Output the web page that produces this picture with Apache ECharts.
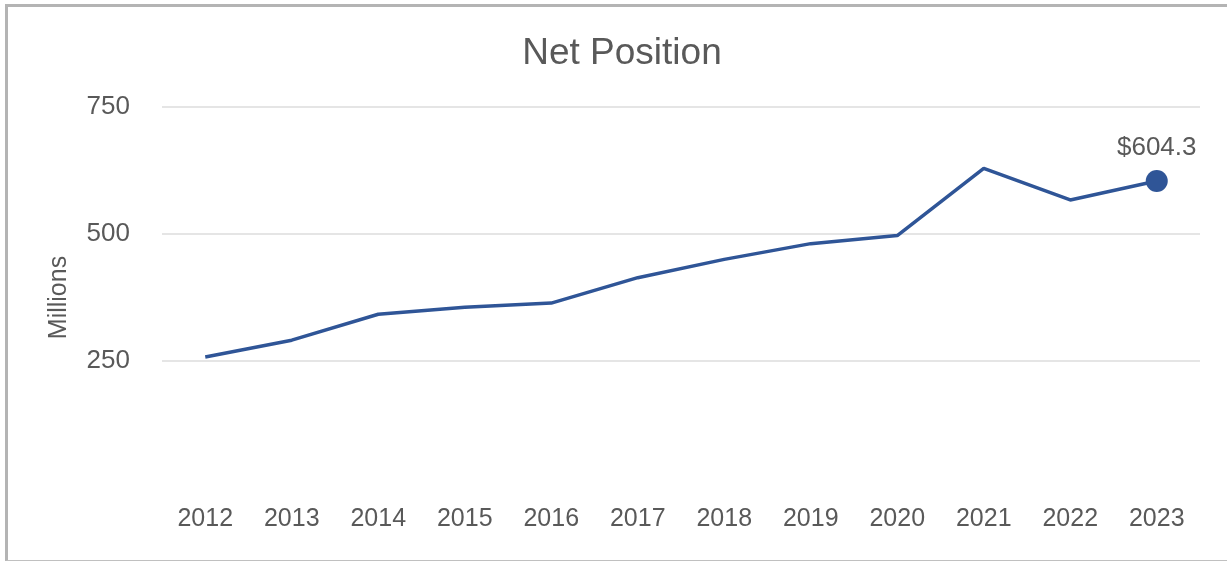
<!DOCTYPE html>
<html>
<head>
<meta charset="utf-8">
<script src="https://cdn.jsdelivr.net/npm/echarts@6/dist/echarts.min.js"></script>
<style>
html,body{margin:0;padding:0;background:#fff;}
#chart{position:absolute;left:0;top:0;width:1227px;height:561px;}
#frame{position:absolute;left:5px;top:4px;width:1240px;height:553px;border-left:3px solid #b4b4b4;border-top:3px solid #b4b4b4;border-bottom:1px solid #c0c0c0;pointer-events:none;}
</style>
</head>
<body>
<div id="chart"></div>
<div id="frame"></div>
<script>
var years = ['2012','2013','2014','2015','2016','2017','2018','2019','2020','2021','2022','2023'];
var netPosition = [258, 291, 342, 356, 364, 414, 450, 481, 497, 629, 567, 604.3];
var yTicks = [0, 250, 500, 750];

var lastIdx = netPosition.length - 1;
var seriesData = netPosition.map(function (v, i) {
  if (i === lastIdx) {
    return {
      value: v,
      symbol: 'circle',
      symbolSize: 22,
      label: { show: true, formatter: '$' + v.toFixed(1) }
    };
  }
  return { value: v, symbol: 'none' };
});

var chart = echarts.init(document.getElementById('chart'), null, { renderer: 'canvas' });
chart.setOption({
  animation: false,
  backgroundColor: '#ffffff',
  textStyle: { fontFamily: 'Liberation Sans, Arial, sans-serif' },
  title: {
    text: 'Net Position',
    left: 617,
    textAlign: 'center',
    top: 30,
    textStyle: { fontSize: 37, fontWeight: 'normal', color: '#595959', fontFamily: 'Liberation Sans, Arial, sans-serif' }
  },
  grid: { left: 162, right: 27, top: 107, bottom: 73 },
  xAxis: {
    type: 'category',
    data: years,
    boundaryGap: true,
    axisLine: { show: false },
    axisTick: { show: false },
    axisLabel: { color: '#595959', fontSize: 25, margin: 19 }
  },
  yAxis: {
    type: 'value',
    min: yTicks[0],
    max: yTicks[yTicks.length - 1],
    interval: yTicks[1] - yTicks[0],
    name: 'Millions',
    nameLocation: 'middle',
    nameGap: 90,
    nameRotate: 90,
    nameTextStyle: { color: '#595959', fontSize: 25 },
    axisLine: { show: false },
    axisTick: { show: false },
    axisLabel: {
      color: '#595959', fontSize: 26, margin: 32,
      formatter: function (v) { return v === 0 ? '' : String(v); }
    },
    splitLine: { lineStyle: { color: ['rgba(0,0,0,0)', '#dcdcdc', '#dcdcdc', '#dcdcdc'], width: 1.5 } }
  },
  series: [{
    type: 'line',
    data: seriesData,
    showSymbol: true,
    lineStyle: { color: '#2F5597', width: 3.5 },
    itemStyle: { color: '#2F5597' },
    label: { position: 'top', distance: 9, color: '#595959', fontSize: 26 }
  }]
});
</script>
</body>
</html>
